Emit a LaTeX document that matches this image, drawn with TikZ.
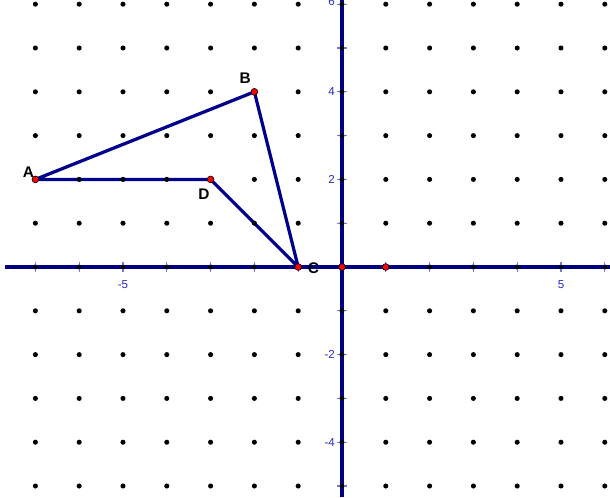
\documentclass[tikz,border=0pt]{standalone}
\usepackage{fontspec}
\setmainfont{Liberation Sans}
\begin{document}
\begin{tikzpicture}[x=1cm,y=1cm,
  gdot/.style={fill=black,draw=none},
  axisline/.style={draw={rgb,255:red,0;green,0;blue,128},line width=2pt},
  tickmark/.style={draw={rgb,255:red,120;green,120;blue,220},line width=0.8pt},
  seg/.style={draw={rgb,255:red,0;green,0;blue,140},line width=2.1pt,line cap=round,line join=round},
  ptdot/.style={circle,fill=red,draw=black,line width=0.4pt,inner sep=0pt,minimum size=4.4pt},
  numlab/.style={font=\fontsize{7.5}{8}\selectfont,text={rgb,255:red,40;green,40;blue,200},inner sep=1pt},
  ptlab/.style={font=\fontsize{10}{11}\selectfont\bfseries,inner sep=0pt}]
\useasboundingbox (-7.808,-5.251) rectangle (6.119,6.096);
\fill[white] (-7.808,-5.251) rectangle (6.119,6.096);
% grid dots
\foreach \x in {-7,...,6}{\foreach \y in {-5,...,6}{\fill[gdot] (\x,\y) circle (0.058);}}
% ticks
\foreach \x in {-7,...,6}{\draw[tickmark] (\x,-0.11) -- (\x,0.11);}
\foreach \y in {-5,...,6}{\draw[tickmark] (-0.11,\y) -- (0.11,\y);}
% axes
\coordinate (xl) at (-7.69,0);
\coordinate (xr) at (6.119,0);
\coordinate (yb) at (0,-5.251);
\coordinate (yt) at (0,6.096);
\draw[axisline] (xl) -- (xr);
\draw[axisline] (yb) -- (yt);
\foreach \x in {-7,...,6}{\fill[gdot] (\x,0) circle (0.05);}
\foreach \y in {-5,...,6}{\fill[gdot] (0,\y) circle (0.05);}
% axis labels
\node[numlab] (lxm5) at (-5,-0.40) {-5};
\node[numlab] (lx5) at (5,-0.40) {5};
\node[numlab,anchor=east] (ly6) at (-0.12,6.05) {6};
\node[numlab,anchor=east] (ly4) at (-0.12,4) {4};
\node[numlab,anchor=east] (ly2) at (-0.12,2) {2};
\node[numlab,anchor=east] (lym2) at (-0.12,-2) {-2};
\node[numlab,anchor=east] (lym4) at (-0.12,-4) {-4};
% polygon
\coordinate (A) at (-7,2);
\coordinate (B) at (-2,4);
\coordinate (C) at (-1,0);
\coordinate (D) at (-3,2);
\draw[seg] (A) -- (B) -- (C) -- (D) -- cycle;
\foreach \x in {-6,-5,-4}{\fill[gdot] (\x,2) circle (0.05);}
\fill[gdot] (-2,1) circle (0.05);
\node[ptdot] (pA) at (A) {};
\node[ptdot] (pB) at (B) {};
\node[ptdot] (pC) at (C) {};
\node[ptdot] (pD) at (D) {};
\node[ptdot] (pO) at (0,0) {};
\node[ptdot] (pE) at (1,0) {};
\node[ptlab] (lA) at (-7.16,2.17) {A};
\node[ptlab] (lB) at (-2.21,4.3) {B};
\node[ptlab] (lC) at (-0.65,-0.02) {C};
\node[ptlab] (lD) at (-3.15,1.67) {D};
\end{tikzpicture}
\end{document}
